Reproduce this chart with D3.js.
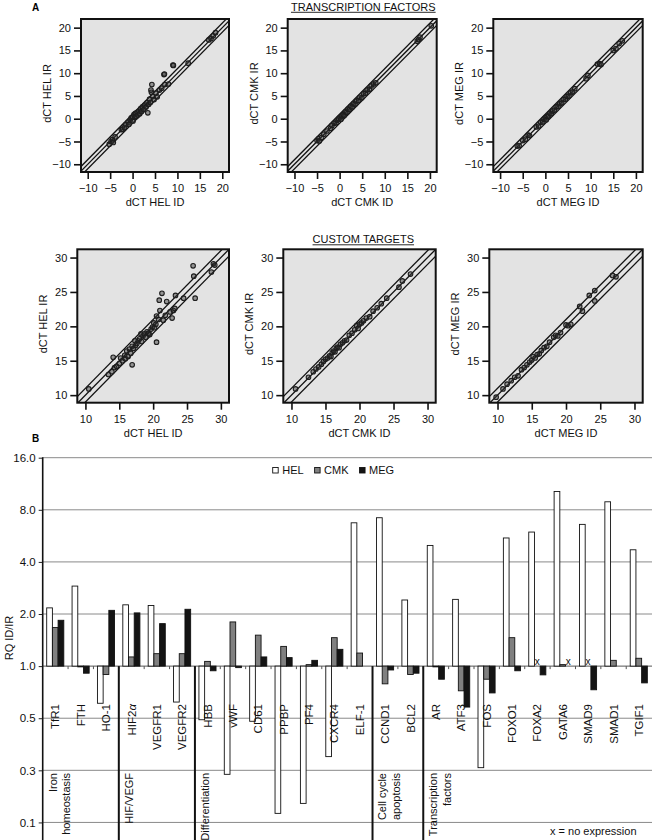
<!DOCTYPE html>
<html><head><meta charset="utf-8">
<script src="https://cdn.jsdelivr.net/npm/d3@7"></script>
<style>
html,body{margin:0;padding:0;background:#fff;}
svg{display:block;font-family:"Liberation Sans",Arial,Helvetica,sans-serif;}
</style></head>
<body><svg id="chart" width="653" height="840"></svg>
<script>
// ---------- DATA ----------
const cellLines = ["HEL","CMK","MEG"];
// Scatter: [dCT ID, dCT IR]
const tfHEL = [[-5.2,-5.6],[-4.8,-5.0],[-4.5,-4.6],[-4.3,-5.2],[-3.9,-4.0],[-2.5,-2.4],[-2.2,-2.3],[-1.8,-1.9],[-1.5,-1.3],[-1.0,-0.8],[-0.8,-1.2],[-0.5,-0.3],[-0.3,0.2],[0.0,0.4],[0.1,-0.5],[0.3,0.9],[0.5,0.3],[0.6,1.2],[0.8,0.5],[1.0,1.4],[1.2,0.8],[1.4,1.7],[1.6,1.1],[1.8,2.2],[2.0,1.6],[2.2,2.6],[2.5,2.0],[2.7,3.0],[3.0,2.6],[3.2,3.5],[3.4,1.3],[3.6,3.2],[3.8,4.3],[4.0,3.6],[4.2,5.8],[4.3,7.5],[4.1,6.3],[4.5,4.9],[4.8,4.2],[5.2,5.6],[5.5,4.8],[6.0,6.3],[6.5,6.7],[7.0,9.7],[7.1,9.8],[7.2,7.5],[8.0,7.6],[9.0,11.8],[9.1,11.7],[12.4,12.2],[17.0,17.3],[17.5,17.6],[18.0,18.2],[18.5,18.9]];
const tfCMK = [[-5.0,-4.8],[-4.7,-4.4],[-4.5,-4.9],[-4.0,-4.1],[-3.5,-3.4],[-2.8,-2.7],[-2.0,-2.1],[-1.7,-1.5],[-1.2,-1.0],[-0.8,-0.9],[-0.5,-0.3],[-0.2,0.0],[0.1,0.3],[0.3,-0.1],[0.5,0.6],[0.8,0.9],[1.0,0.7],[1.3,1.5],[1.6,1.4],[1.9,2.1],[2.2,2.0],[2.5,2.7],[2.8,2.6],[3.1,3.3],[3.4,3.2],[3.8,3.9],[4.2,4.0],[4.5,4.7],[4.9,4.6],[5.3,5.5],[5.7,5.6],[6.1,6.3],[6.6,6.5],[7.0,7.2],[7.5,7.6],[8.0,7.9],[17.2,17.0],[17.5,17.4],[17.8,17.9],[20.3,20.4]];
const tfMEG = [[-6.2,-6.0],[-5.8,-5.9],[-5.0,-4.8],[-4.4,-4.5],[-3.8,-3.6],[-3.5,-3.7],[-2.0,-1.8],[-1.5,-1.6],[-1.0,-0.8],[-0.6,-0.7],[-0.3,-0.1],[0.0,0.2],[0.2,-0.2],[0.4,0.5],[0.7,0.6],[1.0,1.2],[1.3,1.1],[1.6,1.7],[2.0,1.9],[2.4,2.6],[2.8,2.7],[3.2,3.3],[3.6,3.5],[4.0,4.2],[4.4,4.3],[4.8,4.9],[5.2,5.0],[5.6,5.7],[6.0,5.9],[6.5,6.6],[9.0,8.8],[9.4,9.5],[11.5,12.0],[12.0,12.1],[12.3,11.9],[15.0,15.0],[15.6,15.4],[16.3,16.5],[17.0,17.1]];
const ctHEL = [[10.5,10.9],[13.4,13.0],[13.9,13.4],[14.1,15.5],[14.3,14.0],[14.6,14.2],[15.0,14.6],[15.2,15.4],[15.5,15.0],[15.8,15.8],[15.9,15.3],[16.1,16.4],[16.3,15.6],[16.5,16.7],[16.7,16.1],[16.9,14.4],[16.9,17.1],[17.1,16.8],[17.3,17.9],[17.4,17.2],[17.6,17.5],[17.8,17.9],[18.0,18.2],[18.2,18.9],[18.3,17.8],[18.5,18.6],[18.7,18.9],[18.9,18.4],[19.1,19.2],[19.3,19.0],[19.5,18.8],[19.7,19.6],[19.9,19.9],[20.1,20.5],[20.2,19.8],[20.4,20.3],[20.5,17.7],[20.5,21.5],[20.8,21.0],[20.9,23.8],[21.0,22.3],[21.3,24.8],[21.5,20.9],[21.8,21.6],[22.0,23.6],[22.5,22.1],[22.8,21.2],[23.0,22.3],[23.3,24.5],[23.2,22.6],[24.5,24.1],[25.9,28.8],[26.0,27.3],[26.2,24.1],[28.6,27.9],[28.9,29.1],[29.1,28.9]];
const ctCMK = [[10.6,10.9],[12.5,12.6],[13.2,13.4],[13.6,13.8],[14.0,14.1],[14.4,14.5],[14.7,14.9],[15.0,15.2],[15.3,15.4],[15.6,15.7],[15.8,15.6],[16.0,16.2],[16.2,16.4],[16.4,16.3],[16.6,16.8],[16.8,17.0],[17.0,16.9],[17.2,17.4],[17.5,17.6],[17.8,17.9],[18.1,18.0],[18.5,18.7],[18.9,19.0],[19.3,19.5],[19.6,20.1],[19.8,19.7],[20.0,20.3],[20.3,20.5],[20.6,20.8],[21.0,21.2],[21.5,21.4],[22.0,22.2],[22.6,22.7],[23.2,23.3],[24.0,24.1],[25.8,25.7],[26.3,26.6],[27.5,27.6]];
const ctMEG = [[9.8,9.7],[10.8,10.9],[11.4,11.6],[12.0,12.1],[12.5,12.6],[13.0,12.8],[13.5,13.7],[13.9,14.0],[14.3,14.4],[14.7,14.8],[15.0,15.1],[15.2,15.6],[15.5,15.4],[15.8,15.9],[16.1,16.0],[16.4,16.5],[16.8,16.9],[17.2,17.1],[17.6,17.7],[18.2,18.4],[18.5,18.7],[18.8,18.6],[19.2,19.1],[20.0,20.2],[20.3,20.1],[20.7,20.3],[22.0,22.9],[22.4,22.2],[23.4,24.5],[24.2,25.2],[24.2,23.7],[26.8,27.4],[27.3,27.2]];
const tfTicks = [-10,-5,0,5,10,15,20];
const ctTicks = [10,15,20,25,30];
const foldLines = [-1,0,1];

// Bar chart
const genes = ["TfR1","FTH","HO-1","HIF2α","VEGFR1","VEGFR2","HBB","vWF","CD61","PPBP","PF4","CXCR4","ELF-1","CCND1","BCL2","AR","ATF3","FOS","FOXO1","FOXA2","GATA6","SMAD9","SMAD1","TGIF1"];
const rqHEL = [2.17,2.9,0.61,2.26,2.24,0.62,0.49,0.237,0.48,0.141,0.161,0.30,6.73,7.2,2.41,4.98,2.43,0.259,5.5,5.95,10.2,6.59,8.9,4.7];
const rqCMK = [1.67,0.99,0.895,1.13,1.18,1.18,1.065,1.8,1.51,1.3,1.02,1.46,1.19,0.79,0.895,0.99,0.72,0.84,1.46,null,1.02,null,1.08,1.11];
const rqMEG = [1.84,0.91,2.1,2.03,1.76,2.13,0.94,0.98,1.13,1.12,1.08,1.25,1.0,0.95,0.91,0.84,0.58,0.70,0.94,0.89,null,0.73,1.0,0.80];
const rqTicks = [16,8,4,2,1,0.5,0.25,0.125];
const rqTickLabels = ["16.0","8.0","4.0","2.0","1.0","0.5","0.3","0.1"];
const groupStarts = ["TfR1","HIF2α","HBB","CCND1","AR"];
const groupLabels = [["Iron","homeostasis"],["HIF/VEGF"],["Differentiation"],["Cell cycle","apoptosis"],["Transcription","factors"]];
const barColors = ["#ffffff","#808080","#141414"];

// ---------- DRAW ----------
const svg = d3.select("#chart");
svg.append("rect").attr("width",653).attr("height",840).attr("fill","#fff");

let clipId = 0;
function drawPanel(data, bx, by, dom, ticks, line){
  const g = svg.append("g");
  const x = d3.scaleLinear().domain(dom.x).range(bx);
  const y = d3.scaleLinear().domain(dom.y).range([by[1], by[0]]);
  const id = "clip" + (clipId++);
  g.append("clipPath").attr("id", id).append("rect")
    .attr("x",bx[0]).attr("y",by[0]).attr("width",bx[1]-bx[0]).attr("height",by[1]-by[0]);
  g.append("rect").attr("x",bx[0]).attr("y",by[0]).attr("width",bx[1]-bx[0]).attr("height",by[1]-by[0])
    .attr("fill","#e3e3e3");
  const inner = g.append("g").attr("clip-path",`url(#${id})`);
  const lo = Math.min(dom.x[0],dom.y[0]) - 5, hi = Math.max(dom.x[1],dom.y[1]) + 5;
  inner.selectAll("line.fold").data(foldLines).join("line").attr("class","fold")
    .attr("x1",x(lo)).attr("y1",d=>y(lo+d)).attr("x2",x(hi)).attr("y2",d=>y(hi+d))
    .attr("stroke","#111").attr("stroke-width",1.3);
  inner.selectAll("circle").data(data).join("circle")
    .attr("cx",d=>x(d[0])).attr("cy",d=>y(d[1])).attr("r",2.3)
    .attr("fill","rgba(50,50,50,0.45)").attr("stroke","#1e1e1e").attr("stroke-width",1.1);
  g.append("rect").attr("x",bx[0]).attr("y",by[0]).attr("width",bx[1]-bx[0]).attr("height",by[1]-by[0])
    .attr("fill","none").attr("stroke","#111").attr("stroke-width",2);
  const xa = g.append("g").attr("transform",`translate(0,${by[1]})`)
    .call(d3.axisBottom(x).tickValues(ticks).tickSize(7).tickPadding(5.5));
  const ya = g.append("g").attr("transform",`translate(${bx[0]},0)`)
    .call(d3.axisLeft(y).tickValues(ticks).tickSize(7).tickPadding(3));
  [xa,ya].forEach(a=>{
    a.select(".domain").remove();
    a.selectAll(".tick line").attr("stroke","#111").attr("stroke-width",1.6);
    a.selectAll(".tick text").attr("font-size",11).attr("fill","#111").attr("font-family",null);
  });
  g.append("text").attr("x",(bx[0]+bx[1])/2).attr("y",by[1]+34).attr("text-anchor","middle")
    .attr("font-size",11).attr("fill","#111").text(`dCT ${line} ID`);
  g.append("text").attr("transform",`translate(${bx[0]-34},${(by[0]+by[1])/2-2}) rotate(-90)`)
    .attr("text-anchor","middle").attr("dy","0.35em").attr("font-size",11).attr("fill","#111")
    .text(`dCT ${line} IR`);
}

const topBoxes = [[81,229],[287.7,436.7],[493.3,642.7]];
const botBoxes = [[77.3,229],[283.3,435.7],[489.3,642.7]];
const tfData = [tfHEL, tfCMK, tfMEG];
const ctData = [ctHEL, ctCMK, ctMEG];
cellLines.forEach((c,i)=>{
  drawPanel(tfData[i], topBoxes[i], [19,172], {x:[-11.5,21.5], y:[-11.7,21.9]}, tfTicks, c);
  drawPanel(ctData[i], botBoxes[i], [249.3,402.7], {x:[8.8,31.2], y:[8.9,31.2]}, ctTicks, c);
});

// Section titles
function underlinedTitle(txt, cx, y){
  const t = svg.append("text").attr("x",cx).attr("y",y).attr("text-anchor","middle")
    .attr("font-size",11).attr("fill","#111").text(txt);
  const w = t.node().getComputedTextLength();
  svg.append("line").attr("x1",cx-w/2).attr("x2",cx+w/2).attr("y1",y+1.8).attr("y2",y+1.8)
    .attr("stroke","#111").attr("stroke-width",0.9);
}
underlinedTitle("TRANSCRIPTION FACTORS", 363.3, 10.5);
underlinedTitle("CUSTOM TARGETS", 363.3, 243);
svg.append("text").attr("x",32).attr("y",10.5).attr("font-size",10).attr("font-weight","bold").text("A");
svg.append("text").attr("x",32).attr("y",442).attr("font-size",10).attr("font-weight","bold").text("B");

// ---------- BAR CHART ----------
const bx = d3.scaleBand().domain(genes).range([42.7, 651.6]).padding(0);
const sx = d3.scaleBand().domain(cellLines).range([4, 21.1]).padding(0);
const by = d3.scaleLog().base(2).domain([0.1, 16]).range([839.2, 457.7]);
const bg = svg.append("g");

// gridlines
bg.selectAll("line.grid").data(rqTicks).join("line").attr("class","grid")
  .attr("x1",42.7).attr("x2",652).attr("y1",d=>by(d)).attr("y2",d=>by(d))
  .attr("stroke",d=>d===1?"#555":"#8a8a8a").attr("stroke-width",1);

// y axis
const yAx = bg.append("g").attr("transform","translate(42.7,0)")
  .call(d3.axisLeft(by).tickValues(rqTicks).tickFormat((d,i)=>rqTickLabels[i]).tickSize(4).tickPadding(3));
yAx.select(".domain").remove();
yAx.selectAll(".tick line").attr("stroke","#222");
yAx.selectAll(".tick text").attr("font-size",11.5).attr("fill","#111").attr("font-family",null);
bg.append("line").attr("x1",42.7).attr("x2",42.7).attr("y1",457.2).attr("y2",840)
  .attr("stroke","#111").attr("stroke-width",1.6);
bg.append("text").attr("transform",`translate(9,638) rotate(-90)`).attr("text-anchor","middle")
  .attr("dy","0.35em").attr("font-size",11).attr("fill","#111").text("RQ ID/IR");

// small ticks under baseline at category boundaries
bg.selectAll("line.ctick").data(genes.slice(1)).join("line").attr("class","ctick")
  .attr("x1",d=>bx(d)).attr("x2",d=>bx(d)).attr("y1",by(1)).attr("y2",by(1)+3)
  .attr("stroke","#555").attr("stroke-width",1);

// bars
const rqSeries = [rqHEL, rqCMK, rqMEG];
cellLines.forEach((c,si)=>{
  const vals = rqSeries[si];
  const recs = genes.map((g,i)=>({g, v: vals[i]})).filter(d=>d.v!==null && Math.abs(Math.log2(d.v))>0.004);
  bg.selectAll(`rect.bar${si}`).data(recs).join("rect").attr("class",`bar${si}`)
    .attr("x",d=>bx(d.g)+sx(c)).attr("width",sx.bandwidth())
    .attr("y",d=>Math.min(by(d.v),by(1))).attr("height",d=>Math.abs(by(d.v)-by(1)))
    .attr("fill",barColors[si]).attr("stroke","#111").attr("stroke-width",0.9);
  // no expression markers
  const nx = genes.map((g,i)=>({g, v: vals[i]})).filter(d=>d.v===null);
  bg.selectAll(`text.nx${si}`).data(nx).join("text").attr("class",`nx${si}`)
    .attr("x",d=>bx(d.g)+sx(c)+sx.bandwidth()/2).attr("y",by(1)-1.5)
    .attr("text-anchor","middle").attr("font-size",10).attr("fill","#111").text("x");
});

// group separators
bg.selectAll("line.sep").data(groupStarts.slice(1)).join("line").attr("class","sep")
  .attr("x1",d=>bx(d)).attr("x2",d=>bx(d)).attr("y1",by(1)).attr("y2",840)
  .attr("stroke","#111").attr("stroke-width",2);

// category labels
bg.selectAll("text.gene").data(genes).join("text").attr("class","gene")
  .attr("transform",d=>`translate(${bx(d)+bx.bandwidth()/2},704) rotate(-90)`)
  .attr("text-anchor","end").attr("dy","0.35em").attr("font-size",11.5).attr("fill","#111")
  .each(function(d){
    const t = d3.select(this);
    if(d.endsWith("α")){
      t.append("tspan").text(d.slice(0,-1));
      t.append("tspan").attr("font-style","italic").text("α");
    } else t.text(d);
  });

// group labels
groupStarts.forEach((s,gi)=>{
  groupLabels[gi].forEach((lab,li)=>{
    bg.append("text").attr("transform",`translate(${bx(s)+10+li*13.5},773) rotate(-90)`)
      .attr("text-anchor","end").attr("dy","0.35em").attr("font-size",11).attr("fill","#111").text(lab);
  });
});

// legend
let lx = 272.7;
cellLines.forEach((c,i)=>{
  bg.append("rect").attr("x",lx).attr("y",467.5).attr("width",5.5).attr("height",5.5)
    .attr("fill",barColors[i]).attr("stroke","#111").attr("stroke-width",0.9);
  const t = bg.append("text").attr("x",lx+9.5).attr("y",474.3).attr("font-size",11).attr("fill","#111").text(c);
  lx += 9.5 + t.node().getComputedTextLength() + 11;
});

bg.append("text").attr("x",550).attr("y",834.5).attr("font-size",11).attr("fill","#111").text("x = no expression");
</script></body></html>
